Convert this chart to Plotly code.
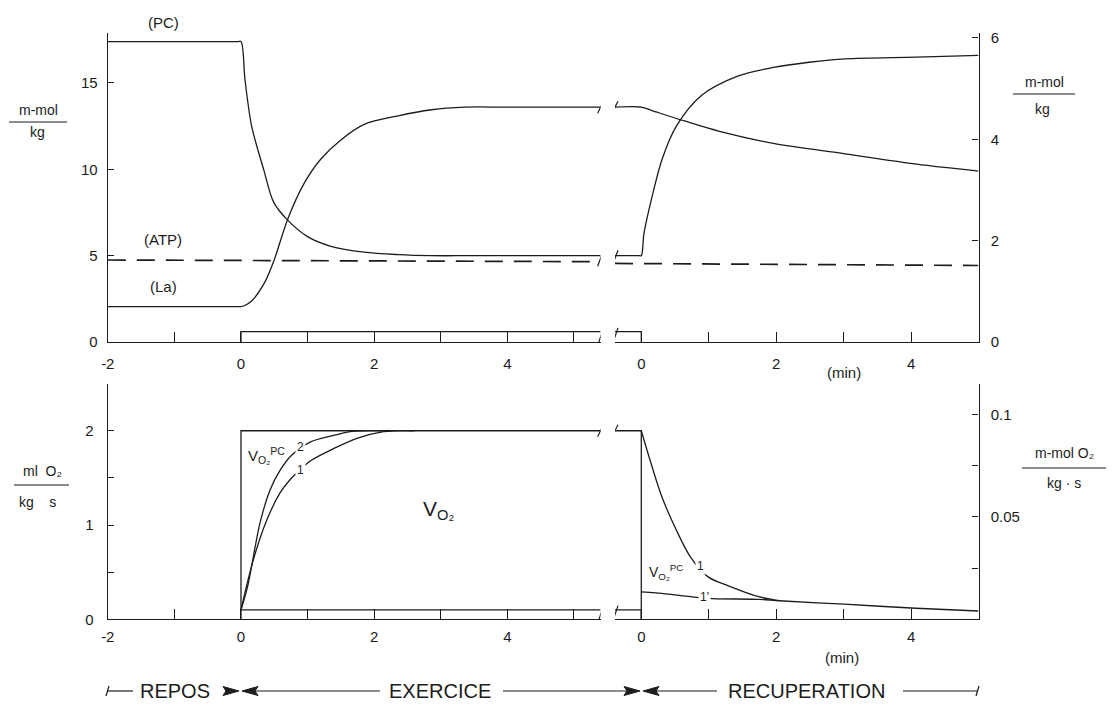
import plotly.graph_objects as go

# The page body has an 8 px default margin, so positions are shifted to compensate
OFF = 8
FW, FH = 1109, 698
INK = "#1c1c1c"
FONT = "Liberation Sans"

# ---------------- data ----------------
# Top panel, exercise segment (time in min, concentrations in m-mol/kg)
pc_ex_t = [-2, -0.05, 0, 0.06, 0.16, 0.34, 0.49, 0.69, 1.0, 1.35, 1.85, 2.36, 2.86, 3.5, 5.4]
pc_ex_v = [17.4, 17.4, 17.4, 15.2, 12.5, 10.0, 8.1, 7.1, 6.1, 5.54, 5.2, 5.06, 5.0, 5.0, 5.0]

la_ex_t = [-2, -0.05, 0, 0.05, 0.15, 0.35, 0.5, 0.7, 0.95, 1.2, 1.5, 1.85, 2.36, 2.86, 3.36, 4.0, 5.4]
la_ex_v = [2.05, 2.05, 2.05, 2.1, 2.34, 3.41, 4.77, 7.1, 9.2, 10.6, 11.7, 12.6, 13.1, 13.45, 13.6, 13.6, 13.6]

atp_ex_t = [-2, 5.4]
atp_ex_v = [4.75, 4.65]

# Top panel, recovery segment
pc_rec_t = [-0.39, -0.03, 0, 0.04, 0.15, 0.31, 0.52, 0.9, 1.43, 1.96, 2.49, 3.02, 4.08, 5.0]
pc_rec_v = [5.0, 5.0, 5.0, 6.3, 8.26, 10.6, 12.5, 14.3, 15.4, 15.9, 16.2, 16.4, 16.5, 16.6]

la_rec_t = [-0.39, 0, 0.16, 0.64, 1.16, 1.96, 3.02, 4.08, 5.0]
la_rec_v = [13.6, 13.6, 13.4, 12.8, 12.2, 11.5, 10.9, 10.3, 9.9]

atp_rec_t = [-0.39, 5.0]
atp_rec_v = [4.55, 4.43]

# Work-load bar (top panel)
work_top_t = [0, 0, 5.4]
work_top_v = [0, 0.6, 0.6]
work_top_rec_t = [-0.39, 0, 0]
work_top_rec_v = [0.6, 0.6, 0]

# Bottom panel (ml O2 / kg s), exercise segment
req_ex_t = [0, 0, 5.4]
req_ex_v = [0, 2.0, 2.0]
vo2_2_t = [0, 0.1, 0.285, 0.435, 0.586, 0.76, 1.04, 1.39, 1.64, 1.8, 2.2]
vo2_2_v = [0.1, 0.35, 1.02, 1.37, 1.58, 1.74, 1.88, 1.95, 1.99, 2.0, 2.0]
vo2_1_t = [0, 0.185, 0.386, 0.586, 0.736, 0.836, 1.04, 1.39, 1.74, 2.14, 2.3, 2.6]
vo2_1_v = [0.1, 0.63, 1.05, 1.34, 1.48, 1.55, 1.68, 1.81, 1.92, 1.99, 2.0, 2.0]
work_bot_t = [0, 5.4]
work_bot_v = [0.1, 0.1]

# Bottom panel, recovery segment
req_rec_t = [-0.39, 0, 0]
req_rec_v = [2.0, 2.0, 0]
rec_1_t = [0, 0.146, 0.305, 0.517, 0.73, 0.99, 1.31, 1.74, 2.05]
rec_1_v = [2.0, 1.65, 1.30, 0.95, 0.66, 0.45, 0.35, 0.24, 0.197]
rec_1p_t = [0, 0.36, 0.73, 1.05, 1.74, 2.05, 3.01, 4.07, 5.0]
rec_1p_v = [0.29, 0.27, 0.24, 0.22, 0.212, 0.197, 0.16, 0.117, 0.088]
work_bot_rec_t = [-0.39, 0, 0]
work_bot_rec_v = [0.1, 0.1, 0]

# Axis ticks
ex_tickvals = [-2, 0, 2, 4]
ex_ticktext = ["-2", "0", "2", "4"]
rec_tickvals = [0, 2, 4]
rec_ticktext = ["0", "2", "4"]
top_l_vals = [0, 5, 10, 15]
top_r_vals = [0, 2, 4, 6]
bot_l_vals = [0, 1, 2]
bot_r_vals = [0.05, 0.1]


# ---------------- layout helpers (reference pixel -> paper) ----------------
def px(x):
    return (x - OFF) / FW


def py(y):
    return 1 - (y - OFF) / FH


X_EX = [px(107.8), px(600.6)]
X_REC = [px(615), px(978.5)]
Y_TOP = [py(342), py(32.9)]
Y_BOT = [py(619.3), py(383.6)]

fig = go.Figure()


def line(x, y, xa, ya, dash=None, width=1.3, shape="spline"):
    fig.add_trace(go.Scatter(
        x=x, y=y, xaxis=xa, yaxis=ya, mode="lines",
        line=dict(color=INK, width=width, dash=dash, shape=shape, smoothing=0.9),
        hoverinfo="skip", showlegend=False))


# top panel
line(pc_ex_t, pc_ex_v, "x", "y")
line(la_ex_t, la_ex_v, "x", "y")
line(atp_ex_t, atp_ex_v, "x", "y", dash="18px,11px", width=1.7, shape="linear")
line(work_top_t, work_top_v, "x", "y", shape="linear")
line(pc_rec_t, pc_rec_v, "x2", "y")
line(la_rec_t, la_rec_v, "x2", "y")
line(atp_rec_t, atp_rec_v, "x2", "y", dash="18px,11px", width=1.7, shape="linear")
line(work_top_rec_t, work_top_rec_v, "x2", "y", shape="linear")

# bottom panel
line(req_ex_t, req_ex_v, "x3", "y3", shape="linear")
line(vo2_2_t, vo2_2_v, "x3", "y3")
line(vo2_1_t, vo2_1_v, "x3", "y3")
line(work_bot_t, work_bot_v, "x3", "y3", shape="linear")
line(req_rec_t, req_rec_v, "x4", "y3", shape="linear")
line(rec_1_t, rec_1_v, "x4", "y3")
line(rec_1p_t, rec_1p_v, "x4", "y3")
line(work_bot_rec_t, work_bot_rec_v, "x4", "y3", shape="linear")

# invisible anchors so the right-hand axes are drawn
for xa, ya in [("x2", "y2"), ("x4", "y4")]:
    fig.add_trace(go.Scatter(x=[0], y=[0], xaxis=xa, yaxis=ya, mode="markers",
                             marker=dict(opacity=0), hoverinfo="skip", showlegend=False))

tickfont = dict(family=FONT, size=15, color=INK)
common = dict(showgrid=False, zeroline=False, showline=True, linecolor=INK, linewidth=1.3,
              ticks="inside", tickwidth=1.2, tickcolor=INK, tickfont=tickfont,
              fixedrange=True, automargin=False, tickmode="array")
minor_x = dict(dtick=1, tick0=0, ticks="inside", ticklen=10, tickwidth=1.2, tickcolor=INK,
               showgrid=False)

fig.update_layout(
    width=FW, height=FH, margin=dict(l=0, r=0, t=0, b=0),
    paper_bgcolor="white", plot_bgcolor="white",
    font=dict(family=FONT, color=INK),
    xaxis=dict(domain=X_EX, range=[-2, 5.4], anchor="y", tickvals=ex_tickvals,
               ticktext=ex_ticktext, ticklen=10, ticklabelstandoff=8, minor=minor_x, **common),
    xaxis2=dict(domain=X_REC, range=[-0.39, 5], anchor="y", tickvals=rec_tickvals,
                ticktext=rec_ticktext, ticklen=10, ticklabelstandoff=8, minor=minor_x, **common),
    xaxis3=dict(domain=X_EX, range=[-2, 5.4], anchor="y3", tickvals=ex_tickvals,
                ticktext=ex_ticktext, ticklen=10, ticklabelstandoff=4, minor=minor_x, **common),
    xaxis4=dict(domain=X_REC, range=[-0.39, 5], anchor="y3", tickvals=rec_tickvals,
                ticktext=rec_ticktext, ticklen=10, ticklabelstandoff=4, minor=minor_x, **common),
    yaxis=dict(domain=Y_TOP, range=[0, 17.9], anchor="x", tickvals=top_l_vals,
               ticklen=6, ticklabelstandoff=6, **common),
    yaxis2=dict(range=[0, 6.1], overlaying="y", anchor="x2", side="right",
                tickvals=top_r_vals, ticklen=6, ticklabelstandoff=8, **common),
    yaxis3=dict(domain=Y_BOT, range=[0, 2.5], anchor="x3", tickvals=bot_l_vals, ticklen=6,
                ticklabelstandoff=10,
                minor=dict(dtick=0.5, tick0=0, ticks="inside", ticklen=6, tickwidth=1.2,
                           tickcolor=INK, showgrid=False), **common),
    yaxis4=dict(range=[0, 0.115], overlaying="y3", anchor="x4", side="right",
                tickvals=bot_r_vals, ticklen=6, ticklabelstandoff=8,
                minor=dict(dtick=0.025, tick0=0, ticks="inside", ticklen=6, tickwidth=1.2,
                           tickcolor=INK, showgrid=False), **common),
)

ann = []
shapes = []


def text(x, y, s, size=15, **kw):
    d = dict(x=px(x), y=py(y), xref="paper", yref="paper", text=s, showarrow=False,
             xanchor="center", yanchor="middle", font=dict(family=FONT, size=size, color=INK))
    d.update(kw)
    ann.append(d)


def pline(x0, y0, x1, y1, w=1.2):
    shapes.append(dict(type="line", xref="paper", yref="paper", x0=px(x0), y0=py(y0),
                       x1=px(x1), y1=py(y1), line=dict(color=INK, width=w)))


def tri(tip, y, direction, length=16, half=4.5):
    base = tip - direction * length
    path = (f"M {px(tip)} {py(y)} L {px(base)} {py(y - half)} "
            f"L {px(base + direction * 3)} {py(y)} L {px(base)} {py(y + half)} Z")
    shapes.append(dict(type="path", xref="paper", yref="paper", path=path,
                       fillcolor=INK, line=dict(color=INK, width=1)))


# series labels, top
text(163, 23, "(PC)")
text(163, 239, "(ATP)")
text(163, 286, "(La)")
text(844, 373, "(min)")
text(842, 657, "(min)")

# axis unit fractions
text(38, 110, "m-mol", size=14)
pline(9, 122, 67, 122)
text(37, 132, "kg", size=14)
text(1044, 82, "m-mol", size=14)
pline(1013, 94, 1075, 94)
text(1042, 109, "kg", size=14)
text(42, 471, "ml  O₂", size=14)
pline(14, 485, 69, 485)
text(37, 502, "kg    s", size=14)
text(1064, 453, "m-mol O₂", size=14)
pline(1022, 468, 1106, 468)
text(1064, 483, "kg · s", size=14)

# bottom panel labels
text(438, 510, "V<sub>O₂</sub>", size=21)
text(266, 455, "V<sub>O₂</sub><sup>PC</sup>", size=15)
text(300, 447, "2", size=12, bgcolor="white")
text(300, 470, "1", size=12, bgcolor="white")
text(666, 572, "V<sub>O₂</sub><sup>PC</sup>", size=14)
text(700, 566, "1", size=12, bgcolor="white")
text(704, 597, "1'", size=12, bgcolor="white")

# phase line at the bottom
YB = 691
pline(108, YB, 133, YB)
pline(106, YB + 5, 109, YB - 5)
text(175, YB, "REPOS", size=20)
tri(239, YB, +1)
tri(242, YB, -1)
pline(250, YB, 380, YB)
text(440, YB, "EXERCICE", size=20)
pline(503, YB, 630, YB)
tri(640, YB, +1)
tri(643, YB, -1)
pline(650, YB, 717, YB)
text(806, YB, "RECUPERATION", size=20)
pline(903, YB, 977, YB)
pline(976, YB + 5, 979, YB - 5)


# break marks "//"
def slash(xref, yref, xa, ya, half=7):
    shapes.append(dict(type="line", xref=xref, yref=yref, xsizemode="pixel", ysizemode="pixel",
                       xanchor=xa, yanchor=ya, x0=-3, x1=3, y0=-half, y1=half,
                       line=dict(color=INK, width=1.2)))


for yv, h in [(13.6, 6), (4.85, 8), (0.3, 9)]:
    slash("x", "y", 5.4, yv, h)
    slash("x2", "y", -0.39, yv, h)
for yv, h in [(2.0, 6), (0.05, 9)]:
    slash("x3", "y3", 5.4, yv, h)
    slash("x4", "y3", -0.39, yv, h)

fig.update_layout(annotations=ann, shapes=shapes)
fig.write_html("out.html")
